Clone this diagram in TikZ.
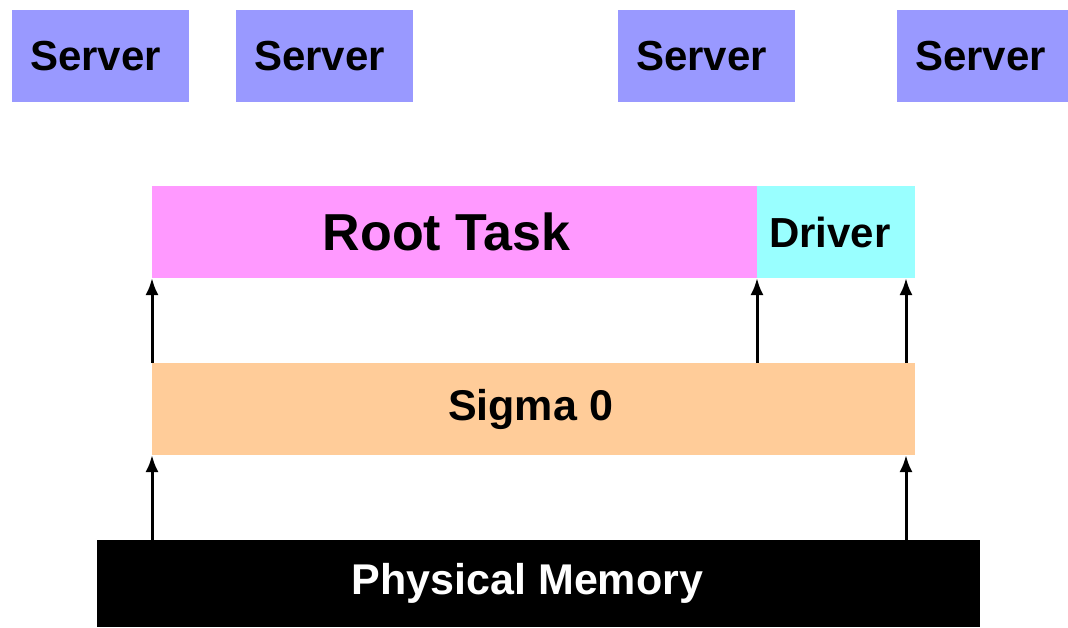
\documentclass[tikz,border=0pt]{standalone}
\usepackage{fontspec}
\setmainfont{Liberation Sans}
\usetikzlibrary{arrows.meta}

\colorlet{serverblue}{rgb,255:red,153;green,153;blue,255}
\colorlet{rootpink}{rgb,255:red,255;green,153;blue,255}
\colorlet{drivercyan}{rgb,255:red,153;green,255;blue,255}
\colorlet{sigmaorange}{rgb,255:red,255;green,204;blue,153}

\begin{document}
\begin{tikzpicture}[x=1pt,y=-1pt,
  block/.style={anchor=north west,inner sep=0pt,outer sep=0pt,
    font=\bfseries\fontsize{42}{50}\selectfont},
  uparrow/.style={-{Latex[length=17pt,width=13pt]},line width=3pt}]
\useasboundingbox (0,0) rectangle (1068,627);
% Servers along the top
\foreach \x/\n in {12/1,236/2,618/3,897/4}
  \node[block,fill=serverblue,minimum width=177pt,minimum height=92pt]
    (srv\n) at (\x,10) {Server\kern10pt};
% Root task and driver
\node[block,fill=rootpink,minimum width=605pt,minimum height=92pt,
  font=\bfseries\fontsize{52}{60}\selectfont] (root) at (152,186) {Root Task\kern16pt};
\node[block,fill=drivercyan,minimum width=158pt,minimum height=92pt]
  (driver) at (757,186) {Driver\kern12pt};
% Sigma 0
\node[block,fill=sigmaorange,minimum width=763pt,minimum height=92pt,
  font=\bfseries\fontsize{43}{50}\selectfont] (sigma) at (152,363) {Sigma 0\kern6pt};
% Physical memory
\node[block,fill=black,text=white,minimum width=883pt,minimum height=87pt,
  font=\bfseries\fontsize{43}{50}\selectfont] (mem) at (97,540) {Physical Memory\kern22pt};
% Mappings
\coordinate (sigmaright) at ([xshift=-9pt]sigma.south east);
\draw[uparrow] (sigma.north west) -- (root.south west);
\draw[uparrow] (sigma.north -| root.south east) -- (root.south east);
\draw[uparrow] ([xshift=-9pt]sigma.north east) -- ([xshift=-9pt]driver.south east);
\draw[uparrow] (mem.north -| sigma.south west) -- (sigma.south west);
\draw[uparrow] (mem.north -| sigmaright) -- (sigmaright);
\end{tikzpicture}
\end{document}
